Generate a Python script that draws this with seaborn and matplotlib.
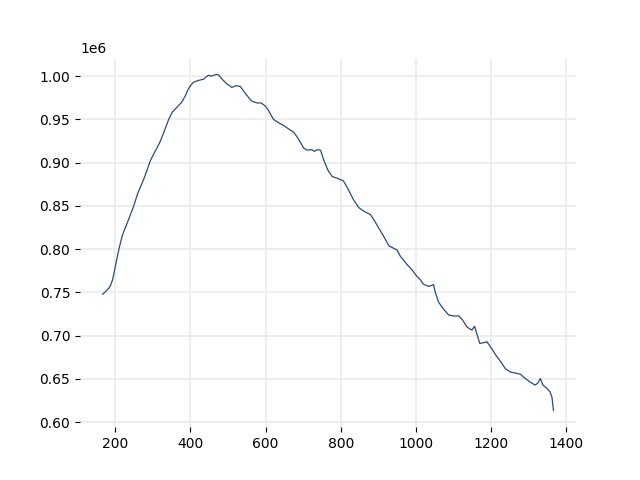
"""Line chart of a single noisy series (values in the order of 1e6),
redrawn with seaborn on a plain grid without spines.
"""
import pandas as pd
import matplotlib
matplotlib.use("Agg")
import matplotlib.pyplot as plt
import seaborn as sns

# values
steps = [166, 172, 178, 183, 187, 193, 200, 209, 218, 225, 235, 249, 260,
         275, 284, 293, 302, 311, 320, 329, 342, 351, 364, 377, 386, 393,
         400, 408, 421, 435, 441, 448, 455, 462, 468, 475, 484, 497, 510,
         522, 533, 546, 559, 564, 577, 588, 599, 608, 621, 635, 648, 661,
         675, 688, 701, 710, 723, 730, 737, 746, 754, 765, 777, 790, 807,
         820, 834, 848, 861, 879, 888, 901, 914, 928, 941, 950, 959, 966,
         975, 990, 1000, 1012, 1020, 1034, 1047, 1051, 1060, 1074, 1087,
         1100, 1114, 1123, 1136, 1149, 1156, 1162, 1170, 1180, 1189, 1202,
         1212, 1224, 1238, 1251, 1264, 1278, 1291, 1304, 1317, 1324, 1331,
         1338, 1349, 1357, 1362, 1366]
values = [748000, 750000, 753000, 755000, 758000, 765000, 780000, 799000,
          815000, 823000, 834000, 850000, 865000, 880000, 891000, 902000,
          910000, 917000, 925000, 935000, 950000, 958000, 964000, 970000,
          977000, 984000, 989000, 993000, 995000, 996500, 999000, 1001000,
          1000000, 1001000, 1002000, 1001500, 996500, 991000, 987000,
          989000, 988000, 980000, 973000, 971000, 969000, 969000, 965500,
          960000, 950000, 946000, 943000, 939000, 935000, 927000, 917000,
          914500, 915000, 913000, 915000, 914500, 904000, 892000, 884000,
          882000, 879000, 869000, 857000, 848000, 844000, 840000, 834000,
          824500, 815000, 804000, 801000, 799000, 791500, 788000, 783000,
          776000, 770000, 764500, 759500, 757000, 759000, 751000, 739000,
          730500, 724000, 722800, 722800, 719000, 710000, 706500, 711000,
          702500, 691000, 692000, 693000, 685000, 678000, 671000, 662000,
          658000, 657000, 655500, 650500, 646500, 643000, 645000, 650500,
          643000, 639000, 635000, 629000, 613700]

df = pd.DataFrame({"step": steps, "value": values})

fig, ax = plt.subplots(figsize=(6.4, 4.8), dpi=100)
sns.lineplot(data=df, x="step", y="value", ax=ax,
             color="#2f4b6e", linewidth=0.9)

ax.set_xlabel("")
ax.set_ylabel("")
ax.grid(True, color="#ebebeb", linewidth=1.2)
ax.set_axisbelow(True)
sns.despine(ax=ax, left=True, bottom=True)

plt.savefig("out.png", dpi=100)
